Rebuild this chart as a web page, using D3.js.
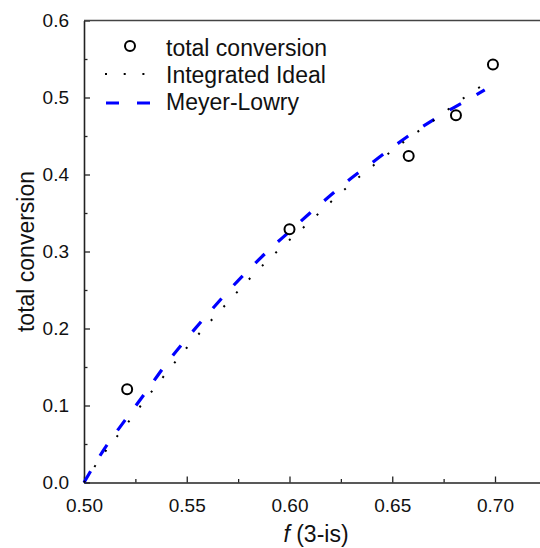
<!DOCTYPE html>
<html>
<head>
<meta charset="utf-8">
<script src="https://cdn.jsdelivr.net/npm/d3@7"></script>
<style>
  html, body { margin: 0; padding: 0; background: #fff; }
  svg { display: block; font-family: Arial, "Liberation Sans", sans-serif; }
</style>
</head>
<body>
<svg id="chart" width="540" height="548"></svg>
<script>
// Measured total conversion against f (3-is)
const fMeasured = [0.521, 0.600, 0.658, 0.681, 0.699];
const convMeasured = [0.121, 0.329, 0.424, 0.477, 0.543];

// Integrated ideal model
const fIdeal = [0.50, 0.51, 0.52, 0.53, 0.54, 0.55, 0.56, 0.57, 0.58, 0.59, 0.60,
                0.61, 0.62, 0.63, 0.64, 0.65, 0.66, 0.67, 0.68, 0.69, 0.699];
const convIdeal = [0.000, 0.039, 0.073, 0.108, 0.142, 0.175, 0.205, 0.234, 0.263, 0.290, 0.315,
                   0.339, 0.364, 0.388, 0.410, 0.431, 0.451, 0.470, 0.490, 0.509, 0.524];

// Meyer-Lowry model
const fML = [0.50, 0.51, 0.52, 0.53, 0.54, 0.55, 0.56, 0.57, 0.58, 0.59, 0.60,
             0.61, 0.62, 0.63, 0.64, 0.65, 0.66, 0.67, 0.68, 0.69, 0.695];
const convML = [0.000, 0.044, 0.081, 0.117, 0.154, 0.187, 0.218, 0.248, 0.276, 0.302, 0.326,
                0.350, 0.373, 0.395, 0.415, 0.435, 0.454, 0.471, 0.487, 0.502, 0.510];

const xMajorTicks = [0.50, 0.55, 0.60, 0.65, 0.70];
const xMinorTicks = [0.525, 0.575, 0.625, 0.675];
const yMajorTicks = [0.0, 0.1, 0.2, 0.3, 0.4, 0.5, 0.6];
const yMinorTicks = [0.05, 0.15, 0.25, 0.35, 0.45, 0.55];

const legendLabels = ["total conversion", "Integrated Ideal", "Meyer-Lowry"];

const svg = d3.select("#chart");
const plotLeft = 84, plotTop = 20.5, plotBottom = 482.5;

const x = d3.scaleLinear().domain([0.5, 0.725]).range([plotLeft, plotLeft + 0.225 * 2055]);
const y = d3.scaleLinear().domain([0, 0.6]).range([plotBottom, plotTop]);

const axisColor = "#222";

// Minor ticks (inward, no labels)
svg.append("g")
  .attr("transform", `translate(0,${plotBottom})`)
  .call(d3.axisTop(x).tickValues(xMinorTicks).tickSize(3.5).tickFormat(""))
  .call(g => g.select(".domain").remove())
  .selectAll("line").attr("stroke", axisColor).attr("stroke-width", 1.3);
svg.append("g")
  .attr("transform", `translate(${plotLeft},0)`)
  .call(d3.axisRight(y).tickValues(yMinorTicks).tickSize(3.5).tickFormat(""))
  .call(g => g.select(".domain").remove())
  .selectAll("line").attr("stroke", axisColor).attr("stroke-width", 1.3);

// Bottom axis: major ticks inward, labels below
const xAxis = svg.append("g")
  .attr("transform", `translate(0,${plotBottom})`)
  .call(d3.axisBottom(x).tickValues(xMajorTicks).tickSizeInner(-6).tickSizeOuter(0)
        .tickPadding(16).tickFormat(d3.format(".2f")));
xAxis.select(".domain").attr("stroke", axisColor).attr("stroke-width", 1.6);
xAxis.selectAll(".tick line").attr("stroke", axisColor).attr("stroke-width", 1.3);
xAxis.selectAll(".tick text").attr("font-size", 19).attr("fill", "#111")
  .attr("font-family", "Arial, 'Liberation Sans', sans-serif");

// Left axis
const yAxis = svg.append("g")
  .attr("transform", `translate(${plotLeft},0)`)
  .call(d3.axisLeft(y).tickValues(yMajorTicks).tickSizeInner(-6).tickSizeOuter(0)
        .tickPadding(15).tickFormat(d3.format(".1f")));
yAxis.select(".domain").attr("stroke", axisColor).attr("stroke-width", 1.6);
yAxis.selectAll(".tick line").attr("stroke", axisColor).attr("stroke-width", 1.3);
yAxis.selectAll(".tick text").attr("font-size", 19).attr("fill", "#111")
  .attr("font-family", "Arial, 'Liberation Sans', sans-serif");

// Top frame line
svg.append("line")
  .attr("x1", x(0.5)).attr("x2", x(0.725))
  .attr("y1", y(0.6)).attr("y2", y(0.6))
  .attr("stroke", "#444").attr("stroke-width", 1.6);

// Axis titles
svg.append("text")
  .attr("x", 316).attr("y", 542)
  .attr("text-anchor", "middle").attr("font-size", 23).attr("fill", "#111")
  .call(t => {
    t.append("tspan").attr("font-style", "italic").text("f");
    t.append("tspan").text(" (3-is)");
  });
svg.append("text")
  .attr("transform", `translate(34,${(plotTop + plotBottom) / 2}) rotate(-90)`)
  .attr("text-anchor", "middle").attr("font-size", 23).attr("fill", "#111")
  .text("total conversion");

// Model curves
const lineGen = d3.line().x(d => x(d[0])).y(d => y(d[1])).curve(d3.curveMonotoneX);

svg.append("path")
  .datum(d3.zip(fML, convML))
  .attr("d", lineGen)
  .attr("fill", "none").attr("stroke", "#0000ff")
  .attr("stroke-width", 3.2).attr("stroke-dasharray", "13,18");

svg.append("path")
  .datum(d3.zip(fIdeal, convIdeal))
  .attr("d", lineGen)
  .attr("fill", "none").attr("stroke", "#000")
  .attr("stroke-width", 2).attr("stroke-dasharray", "2,16.7");

// Measured points
svg.append("g").selectAll("circle")
  .data(d3.zip(fMeasured, convMeasured))
  .join("circle")
  .attr("cx", d => x(d[0])).attr("cy", d => y(d[1]))
  .attr("r", 5).attr("fill", "none").attr("stroke", "#000").attr("stroke-width", 2);

// Legend
const legend = svg.append("g").attr("font-size", 23).attr("fill", "#111");
const rowBase = [56, 83, 110];
legend.append("circle").attr("cx", 130).attr("cy", rowBase[0] - 10)
  .attr("r", 5).attr("fill", "none").attr("stroke", "#000").attr("stroke-width", 2);
legend.append("line").attr("x1", 105).attr("x2", 146)
  .attr("y1", rowBase[1] - 9).attr("y2", rowBase[1] - 9)
  .attr("stroke", "#000").attr("stroke-width", 2).attr("stroke-dasharray", "2,16.7");
legend.append("line").attr("x1", 106).attr("x2", 150)
  .attr("y1", rowBase[2] - 7).attr("y2", rowBase[2] - 7)
  .attr("stroke", "#0000ff").attr("stroke-width", 3.2).attr("stroke-dasharray", "13,18");
legend.selectAll("text.lab")
  .data(legendLabels)
  .join("text").attr("class", "lab")
  .attr("x", 166).attr("y", (d, i) => rowBase[i])
  .text(d => d);
</script>
</body>
</html>
